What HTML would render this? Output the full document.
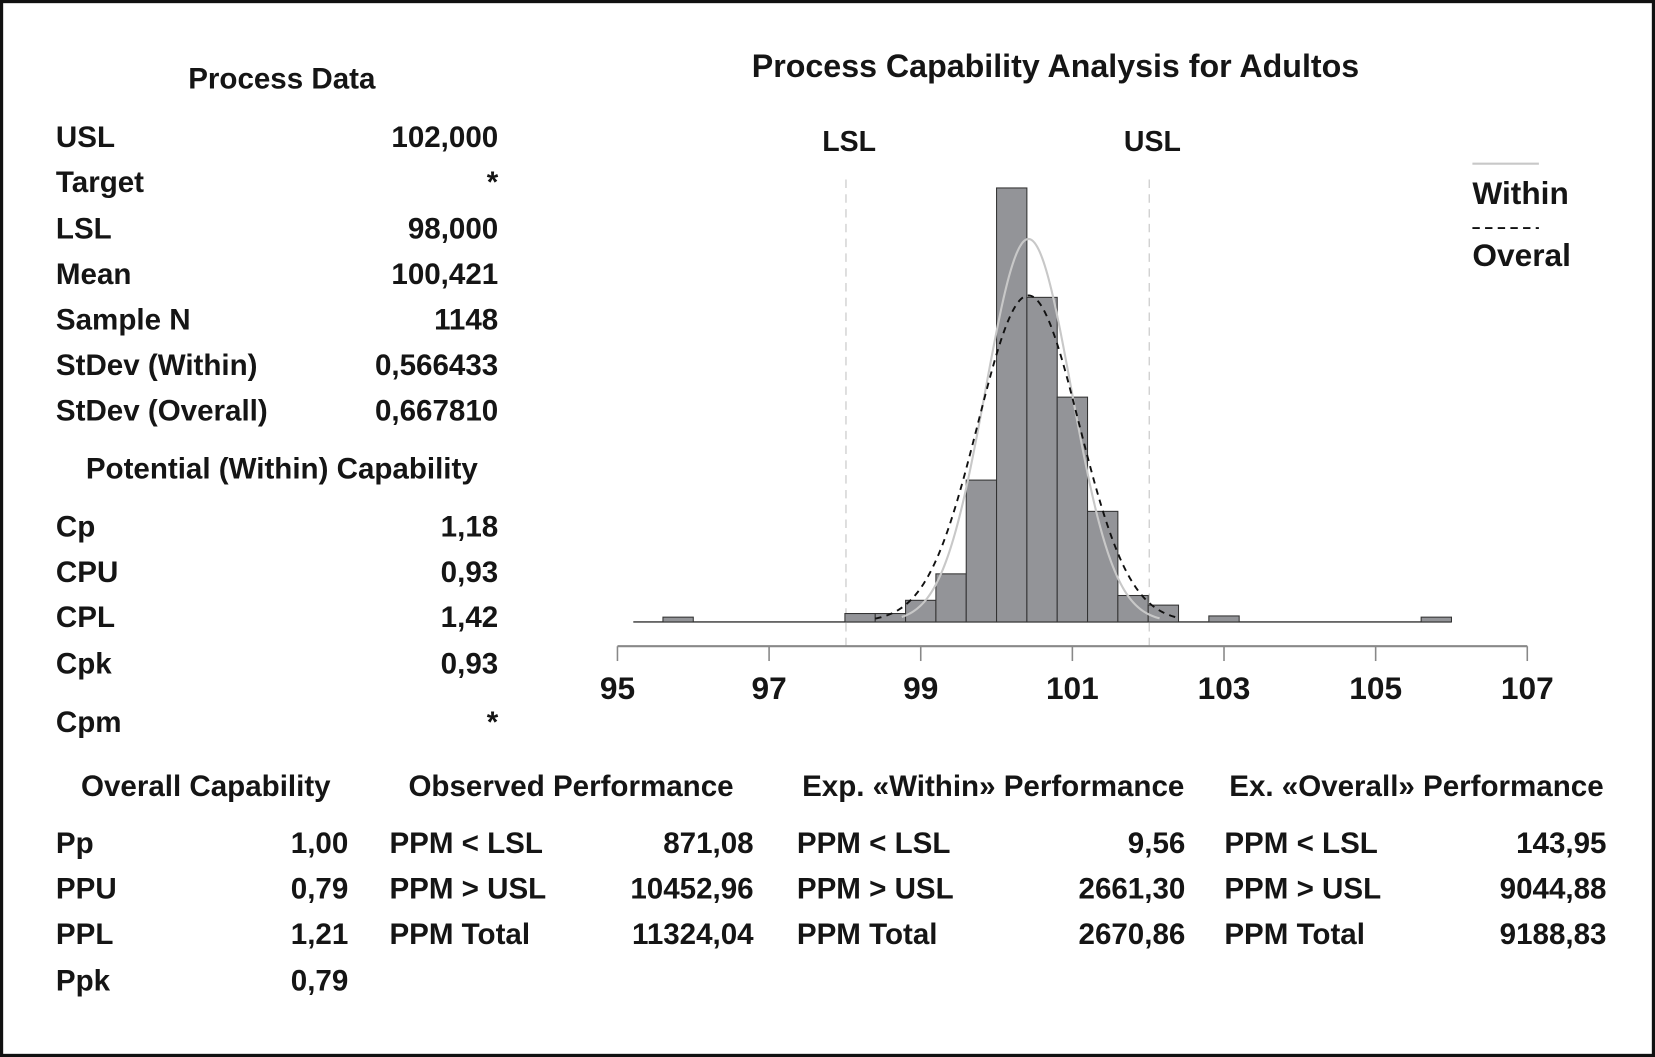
<!DOCTYPE html>
<html><head><meta charset="utf-8"><style>
html,body{margin:0;padding:0;background:#fff;}
svg{display:block;}
text{font-family:"Liberation Sans",sans-serif;font-weight:bold;fill:#151515;}
</style></head><body>
<svg id="fig" width="1655" height="1057" viewBox="0 0 1568 1001" preserveAspectRatio="none">
<rect x="1.5" y="1.5" width="1565" height="998" fill="#fff" stroke="#111" stroke-width="3"/>
<g id="tables" font-size="28"></g>
<g id="chart"></g>
</svg>
<script>
// ---- chart data ----
const binStarts = [95.6, 98.0, 98.4, 98.8, 99.2, 99.6, 100.0, 100.4, 100.8, 101.2, 101.6, 102.0, 102.8, 105.6];
const binCounts = [4, 7, 7, 18, 40, 118, 361, 270, 187, 92, 22, 14, 5, 4];
const binWidth = 0.4;
const xTicks = [95, 97, 99, 101, 103, 105, 107];
const specLimits = [98, 102];
const specNames = ["LSL", "USL"];
const sampleN = 1148;
const meanVal = 100.421;
const sdWithin = 0.566433;
const sdOverall = 0.667810;

const NS = "http://www.w3.org/2000/svg";
const chart = document.getElementById('chart');
const tables = document.getElementById('tables');
function mk(tag, attrs, parent){const e=document.createElementNS(NS,tag);for(const k in attrs)e.setAttribute(k,attrs[k]);(parent||chart).appendChild(e);return e;}
function txt(s,x,y,anchor,parent,size){const t=mk('text',{x:x,y:y,'text-anchor':anchor||'start'},parent);if(size)t.setAttribute('font-size',size);t.textContent=s;return t;}

// axis functions
const X0=585, X1=1447, D0=95, D1=107;
function xs(v){return X0+(v-D0)*(X1-X0)/(D1-D0);}
const BASE=589, PXC=411/361;
function ys(c){return BASE-c*PXC;}

// title
let t=txt("Process Capability Analysis for Adultos",1000,73,'middle',chart,30.5);


// spec lines
specLimits.forEach((v,i)=>{
  const l=mk('line',{x1:xs(v)+1,x2:xs(v)+1,y1:170,y2:612,stroke:'#ccc','stroke-width':1.2,'stroke-dasharray':'8,6'});
  
  
  const lt=txt(specNames[i],xs(v)+4,143,'middle',chart,27);
  
  
});

// baseline
const bl=mk('line',{x1:600,x2:1375,y1:BASE,y2:BASE,stroke:'#333','stroke-width':1.3});



// bars
binStarts.forEach((s,i)=>{
  const r=mk('rect',{x:xs(s),y:ys(binCounts[i]),width:xs(s+binWidth)-xs(s),height:BASE-ys(binCounts[i]),fill:'#939498',stroke:'#333','stroke-width':1});
  
  
});

// normal curves
function curve(sd,a,b,k0){
  const peak=k0*sampleN*binWidth/(sd*Math.sqrt(2*Math.PI));
  let d='';
  for(let k=0;k<=200;k++){const v=a+(b-a)*k/200;const c=peak*Math.exp(-0.5*((v-meanVal)/sd)**2);d+=(k?'L':'M')+xs(v).toFixed(2)+','+ys(c).toFixed(2);}
  return d;
}
const cw=mk('path',{d:curve(sdWithin,98.75,102.15,0.985),fill:'none',stroke:'#c8c8c8','stroke-width':2});


const co=mk('path',{d:curve(sdOverall,98.4,102.4,0.99),fill:'none',stroke:'#111','stroke-width':1.8,'stroke-dasharray':'6,5'});



// x axis
const ax=mk('line',{x1:X0,x2:X1,y1:612,y2:612,stroke:'#888','stroke-width':2});


xTicks.forEach(v=>{
  const tk=mk('line',{x1:xs(v),x2:xs(v),y1:612,y2:626,stroke:'#888','stroke-width':1.5});
  
  
  const tl=txt(String(v),xs(v),662,'middle',chart,30);
  
  
});

// legend
const lg1=mk('line',{x1:1395,x2:1458,y1:155,y2:155,stroke:'#c8c8c8','stroke-width':2});


let lt1=txt("Within",1395,193,'start',chart,30);


const lg2=mk('line',{x1:1395,x2:1458,y1:216,y2:216,stroke:'#111','stroke-width':1.8,'stroke-dasharray':'7,5'});


let lt2=txt("Overal",1395,252,'start',chart,30);



// ---- tables ----
function header(s,cx,y,name){const h=txt(s,cx,y,'middle',tables);}
function row(label,val,lx,rx,y,name){
  const a=txt(label,lx,y,'start',tables);
  const b=txt(val,rx,y,'end',tables);
}
header("Process Data",267,84,'process-data-header');
[["USL","102,000",139],["Target","*",182],["LSL","98,000",226],["Mean","100,421",269],["Sample N","1148",312],["StDev (Within)","0,566433",355],["StDev (Overall)","0,667810",398]]
 .forEach(r=>row(r[0],r[1],53,472,r[2],'process-data-row'));
header("Potential (Within) Capability",267,453,'potential-capability-header');
[["Cp","1,18",508],["CPU","0,93",551],["CPL","1,42",594],["Cpk","0,93",638],["Cpm","*",693]]
 .forEach(r=>row(r[0],r[1],53,472,r[2],'potential-capability-row'));
header("Overall Capability",195,754,'overall-capability-header');
[["Pp","1,00",808],["PPU","0,79",851],["PPL","1,21",894],["Ppk","0,79",938]]
 .forEach(r=>row(r[0],r[1],53,330,r[2],'overall-capability-row'));
header("Observed Performance",541,754,'observed-performance-header');
[["PPM < LSL","871,08",808],["PPM > USL","10452,96",851],["PPM Total","11324,04",894]]
 .forEach(r=>row(r[0],r[1],369,714,r[2],'observed-performance-row'));
header("Exp. «Within» Performance",941,754,'exp-within-performance-header');
[["PPM < LSL","9,56",808],["PPM > USL","2661,30",851],["PPM Total","2670,86",894]]
 .forEach(r=>row(r[0],r[1],755,1123,r[2],'exp-within-performance-row'));
header("Ex. «Overall» Performance",1342,754,'exp-overall-performance-header');
[["PPM < LSL","143,95",808],["PPM > USL","9044,88",851],["PPM Total","9188,83",894]]
 .forEach(r=>row(r[0],r[1],1160,1522,r[2],'exp-overall-performance-row'));
</script>
</body></html>
